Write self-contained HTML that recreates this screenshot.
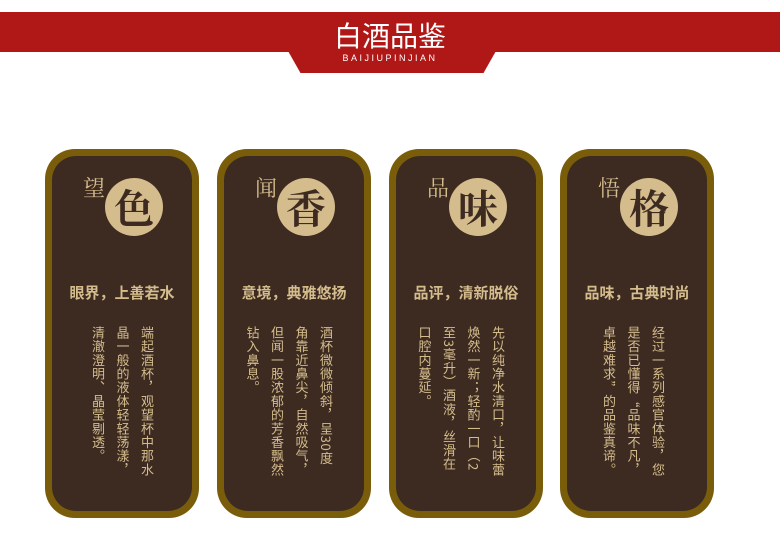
<!DOCTYPE html>
<html><head><meta charset="utf-8"><style>
*{margin:0;padding:0;box-sizing:border-box}
body{width:780px;height:542px;background:#fff;position:relative;overflow:hidden;font-family:"Liberation Sans","Noto Sans CJK SC",sans-serif}
.band{position:absolute;left:0;top:12px;width:780px;height:40px;background:#b01818}
.trap{position:absolute;left:288px;top:51px;width:208px;height:22px;background:#b01818;clip-path:polygon(0 0,100% 0,94% 100%,6% 100%)}
.title{position:absolute;left:0;width:780px;top:18px;text-align:center;color:#fff;font-size:28px;line-height:34px;font-family:"Noto Sans CJK SC",sans-serif}
.sub{position:absolute;left:0;width:780px;top:53px;text-align:center;color:#fff;font-size:9px;letter-spacing:2.5px}
.card{position:absolute;top:149px;width:154px;height:369px;background:#7a5d0a;border-radius:30px}
.inner{position:absolute;left:7px;top:7px;right:7px;bottom:7px;background:#3d2b22;border-radius:24px}
.circle{position:absolute;left:53px;top:22px;width:58px;height:58px;border-radius:50%;background:#d4bc8c;color:#3d2b22;font-size:40px;line-height:58px;text-align:center;font-family:"Noto Serif CJK SC",serif;font-weight:bold}
.small{position:absolute;left:31px;top:16px;color:#d4bc8c;font-size:22px;font-family:"Noto Serif CJK SC",serif}
.head{position:absolute;left:0;right:0;top:126px;text-align:center;color:#d4bc8c;font-size:15px;font-weight:bold;font-family:"Noto Sans CJK SC",sans-serif}
.body{position:absolute;top:170px;writing-mode:vertical-rl;color:#d4bc8c;font-size:13px;line-height:24.5px;letter-spacing:0.7px;font-family:"Noto Sans CJK SC",sans-serif;height:170px}
</style></head><body>
<div class="band"></div>
<div class="trap"></div>
<div class="title">白酒品鉴</div>
<div class="sub">BAIJIUPINJIAN</div>

<div class="card" style="left:45px"><div class="inner">
<div class="small">望</div>
<div class="circle">色</div>
<div class="head">眼界，上善若水</div>
<div class="body" style="right:33px">端起酒杯，观望杯中那水<br>晶一般的液体轻轻荡漾，<br>清澈澄明、晶莹剔透。</div>
</div></div>

<div class="card" style="left:217px"><div class="inner">
<div class="small">闻</div>
<div class="circle">香</div>
<div class="head">意境，典雅悠扬</div>
<div class="body" style="right:26px">酒杯微微倾斜，呈30度<br>角靠近鼻尖，自然吸气，<br>但闻一股浓郁的芳香飘然<br>钻入鼻息。</div>
</div></div>

<div class="card" style="left:389px"><div class="inner">
<div class="small">品</div>
<div class="circle">味</div>
<div class="head">品评，清新脱俗</div>
<div class="body" style="right:26px">先以纯净水清口，让味蕾<br>焕然一新；轻酌一口（2<br>至3毫升）酒液，丝滑在<br>口腔内蔓延。</div>
</div></div>

<div class="card" style="left:560px"><div class="inner">
<div class="small">悟</div>
<div class="circle">格</div>
<div class="head">品味，古典时尚</div>
<div class="body" style="right:37px">经过一系列感官体验，您<br>是否已懂得“品味不凡，<br>卓越难求”的品鉴真谛。</div>
</div></div>
</body></html>
